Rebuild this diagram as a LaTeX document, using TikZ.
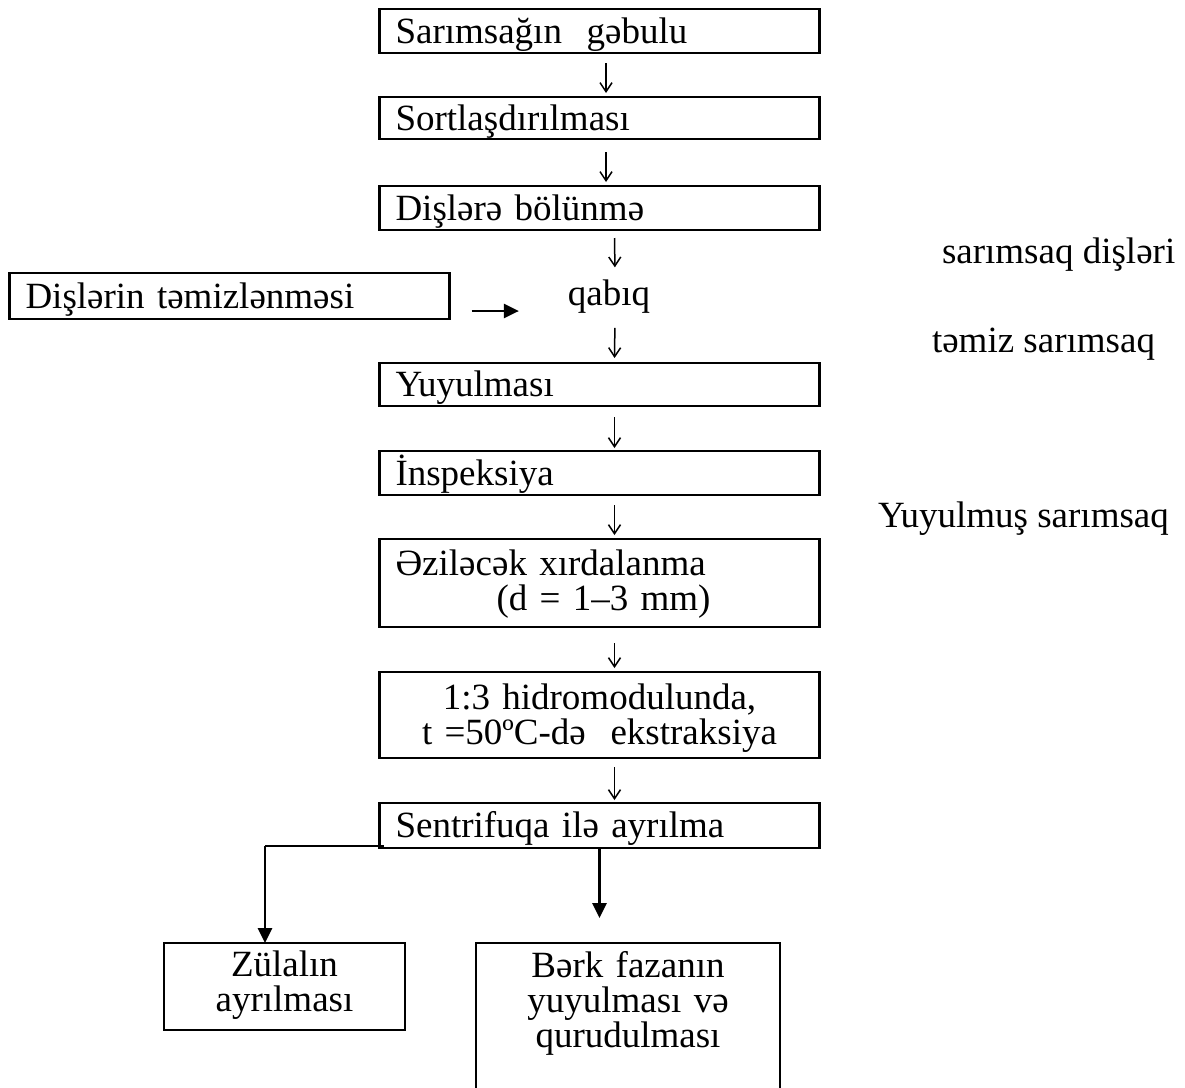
\documentclass[tikz,border=0pt]{standalone}
\usepackage{fontspec}
\setmainfont{Liberation Serif}
\usetikzlibrary{arrows.meta}

\begin{document}
\begin{tikzpicture}[x=0.5pt, y=-0.5pt,
    every node/.style={font=\fontsize{18.5pt}{17.5pt}\selectfont, outer sep=0pt},
    stepbox/.style={draw, line width=1.3pt, text width=204pt, inner xsep=8pt, inner ysep=0pt,
        align=left, text height=12pt, text depth=0pt},
    thinarrow/.style={-{Straight Barb[length=4.5pt,width=6pt]}, line width=0.75pt, shorten <=5pt, shorten >=2pt},
    fatarrow/.style={-{Triangle[length=7.5pt,width=7pt]}, line width=1.3pt}]
    \useasboundingbox (0,0) rectangle (1185,1088);
    % main column
    \node[stepbox, minimum height=22pt] (s1) at (599.5,31) {Sarımsağın\ \ gəbulu};
    \node[stepbox, minimum height=21pt] (s2) at (599.5,118) {Sortlaşdırılması};
    \node[stepbox, minimum height=22pt] (s3) at (599.5,208) {Dişlərə bölünmə};
    \node[stepbox, minimum height=23pt] (tem) at (229.5,296) {Dişlərin təmizlənməsi};
    \node[anchor=base, inner sep=0pt] (qabiq) at (609,305) {qabıq};
    \node[stepbox, minimum height=21.5pt] (s4) at (599.5,384.5) {Yuyulması};
    \node[stepbox, minimum height=22pt] (s5) at (599.5,473) {İnspeksiya};
    \node[stepbox, minimum height=44pt, text depth=20pt] (s6) at (599.5,583)
        {Əziləcək xırdalanma\\ \hspace*{50.5pt}(d = 1–3 mm)};
    \node[stepbox, minimum height=43pt, text depth=18pt, align=center] (s7) at (599.5,715)
        {1:3 hidromodulunda,\\ t =50ºC-də\ \ ekstraksiya};
    \node[stepbox, minimum height=22.5pt] (sent) at (599.5,825.5) {Sentrifuqa ilə ayrılma};
    \node[stepbox, text width=104.5pt, minimum height=43.5pt, text depth=22.5pt, align=center] (zul)
        at (284.5,986.5) {Zülalın\\ ayrılması};
    \node[stepbox, text width=136pt, minimum height=78.5pt, text depth=56pt, align=center] (berk)
        at (628,1021.5) {Bərk fazanın\\ yuyulması və\\ qurudulması};
    % side notes
    \node[anchor=base west, inner sep=0pt] (disler) at (942,263) {sarımsaq dişləri};
    \node[anchor=base west, inner sep=0pt] (temiz) at (932,352) {təmiz sarımsaq};
    \node[anchor=base west, inner sep=0pt] (yuyulmus) at (878,527) {Yuyulmuş sarımsaq};
    % thin arrows
    \draw[thinarrow] ([xshift=3.25pt]s1.south) -- ([xshift=3.25pt]s2.north);
    \draw[thinarrow, shorten <=6.5pt] ([xshift=3.25pt]s2.south) -- ([xshift=3.25pt]s3.north);
    \draw[thinarrow, shorten <=4pt, shorten >=6pt] ([xshift=7.5pt]s3.south) -- ([xshift=3pt]qabiq.north);
    \draw[thinarrow, shorten <=7.5pt, shorten >=2.5pt] ([xshift=3pt]qabiq.south) -- ([xshift=7.5pt]s4.north);
    \draw[thinarrow, shorten <=5.5pt, shorten >=1.5pt] ([xshift=7.5pt]s4.south) -- ([xshift=7.5pt]s5.north);
    \draw[thinarrow] ([xshift=7.5pt]s5.south) -- ([xshift=7.5pt]s6.north);
    \draw[thinarrow, shorten <=8pt] ([xshift=7.5pt]s6.south) -- ([xshift=7.5pt]s7.north);
    \draw[thinarrow, shorten <=4.5pt, shorten >=1.5pt] ([xshift=7.5pt]s7.south) -- ([xshift=7.5pt]sent.north);
    % thick arrows
    \draw[fatarrow, shorten <=11pt, shorten >=24.5pt] ([yshift=-7.5pt]tem.east) -- ([yshift=-7.5pt]tem.east -| qabiq.west);
    \coordinate[xshift=-9.75pt, yshift=1pt] (knee) at (zul.north |- sent.south west);
    \draw[line width=0.7pt] ([xshift=2pt, yshift=1pt]sent.south west) -- (knee);
    \draw[fatarrow] (knee) -- ([xshift=-9.75pt]zul.north);
    \draw[fatarrow, shorten >=12.5pt] (sent.south) -- (sent.south |- berk.north);
\end{tikzpicture}
\end{document}
